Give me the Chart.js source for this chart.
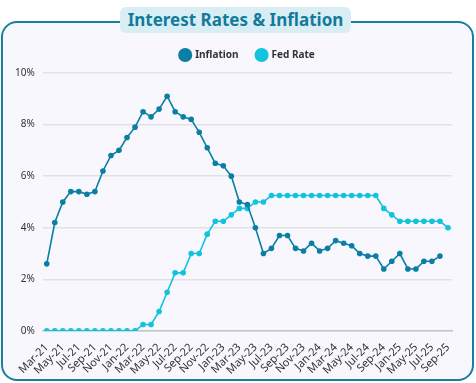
<!DOCTYPE html>
<html>
<head>
<meta charset="utf-8">
<script src="https://cdn.jsdelivr.net/npm/chart.js@4"></script>
<style>
  html, body { margin: 0; padding: 0; background: #fff; }
  body { width: 476px; height: 383px; position: relative; overflow: hidden; font-family: 'Noto Sans', sans-serif; }
  .card {
    position: absolute; left: 1px; top: 21px; width: 469px; height: 356px;
    border: 2px solid #17809f; border-radius: 16px; background: #f7f7fd;
  }
  .title {
    position: absolute; left: 120px; top: 7px; width: 231px; height: 26px;
    background: #d9eef4; border-radius: 6px; color: #127b9c;
    font: bold 17px 'Noto Sans', sans-serif; text-align: center; line-height: 25px;
  }
  .wrap { position: absolute; left: 0; top: 32px; width: 476px; height: 351px; }
</style>
</head>
<body>
<div class="card"></div>
<div class="title">Interest Rates &amp; Inflation</div>
<div class="wrap"><canvas id="chart"></canvas></div>
<script>
// ── Data ───────────────────────────────────────────────────
const months = [
  'Mar-21','Apr-21','May-21','Jun-21','Jul-21','Aug-21','Sep-21','Oct-21','Nov-21','Dec-21',
  'Jan-22','Feb-22','Mar-22','Apr-22','May-22','Jun-22','Jul-22','Aug-22','Sep-22','Oct-22',
  'Nov-22','Dec-22','Jan-23','Feb-23','Mar-23','Apr-23','May-23','Jun-23','Jul-23','Aug-23',
  'Sep-23','Oct-23','Nov-23','Dec-23','Jan-24','Feb-24','Mar-24','Apr-24','May-24','Jun-24',
  'Jul-24','Aug-24','Sep-24','Nov-24','Jan-25','Mar-25','May-25','Jun-25','Jul-25','Aug-25',
  'Sep-25'
];

const inflation = [
  2.6, 4.2, 5.0, 5.4, 5.4, 5.3, 5.4, 6.2, 6.8, 7.0,
  7.5, 7.9, 8.5, 8.3, 8.6, 9.1, 8.5, 8.3, 8.2, 7.7,
  7.1, 6.5, 6.4, 6.0, 5.0, 4.9, 4.0, 3.0, 3.2, 3.7,
  3.7, 3.2, 3.1, 3.4, 3.1, 3.2, 3.5, 3.4, 3.3, 3.0,
  2.9, 2.9, 2.4, 2.7, 3.0, 2.4, 2.4, 2.7, 2.7, 2.9,
  null
];

const fedRate = [
  0, 0, 0, 0, 0, 0, 0, 0, 0, 0,
  0, 0, 0.25, 0.25, 0.75, 1.5, 2.25, 2.25, 3.0, 3.0,
  3.75, 4.25, 4.25, 4.5, 4.75, 4.75, 5.0, 5.0, 5.25, 5.25,
  5.25, 5.25, 5.25, 5.25, 5.25, 5.25, 5.25, 5.25, 5.25, 5.25,
  5.25, 5.25, 4.75, 4.5, 4.25, 4.25, 4.25, 4.25, 4.25, 4.25,
  4.0
];

const yTicks = [0, 2, 4, 6, 8, 10];

// ── Style ──────────────────────────────────────────────────
const C_INF = '#0b7ea3';
const C_FED = '#12c3de';
const FONT = "'Noto Sans', sans-serif";

function lineSet(label, data, color) {
  return {
    label, data,
    borderColor: color,
    backgroundColor: color,
    borderWidth: 1.6,
    pointRadius: 2.8,
    pointHoverRadius: 3,
    pointBorderWidth: 0,
    tension: 0,
    spanGaps: false,
  };
}

// a bit more room under the legend, and nudge it right like the original
const legendNudge = {
  id: 'legendNudge',
  beforeInit(chart) {
    const fit = chart.legend.fit;
    chart.legend.fit = function () {
      fit.call(this);
      this.height += 3;
    };
  },
  afterLayout(chart) {
    chart.legend.left += 18;
    chart.legend.right += 18;
  },
};

new Chart(document.getElementById('chart'), {
  type: 'line',
  data: {
    labels: months,
    datasets: [
      lineSet('Inflation', inflation, C_INF),
      lineSet('Fed Rate', fedRate, C_FED),
    ],
  },
  options: {
    responsive: true,
    maintainAspectRatio: false,
    animation: false,
    layout: { padding: { left: 7, right: 24, top: 0, bottom: 4 } },
    plugins: {
      legend: {
        position: 'top',
        labels: {
          usePointStyle: true,
          pointStyle: 'circle',
          boxWidth: 10,
          boxHeight: 10,
          padding: 18,
          color: '#333',
          font: { family: FONT, size: 10, weight: 'bold' },
        },
      },
      tooltip: { enabled: false },
    },
    scales: {
      x: {
        offset: true,
        grid: { display: false },
        border: { display: true, color: '#c4c4c8', width: 1.5 },
        ticks: {
          autoSkip: false,
          minRotation: 45,
          maxRotation: 45,
          padding: 2,
          color: '#333',
          font: { family: FONT, size: 11 },
          callback: (v, i) => (i % 2 === 0 ? months[i] : ''),
        },
      },
      y: {
        min: 0,
        max: 10,
        afterBuildTicks: s => { s.ticks = yTicks.map(v => ({ value: v })); },
        grid: { color: '#e1e1e6', lineWidth: 1.5, drawTicks: false },
        border: { display: false },
        ticks: {
          padding: 8,
          color: '#333',
          font: { family: FONT, size: 10 },
          callback: v => v + '%',
        },
      },
    },
  },
  plugins: [legendNudge],
});
</script>
</body>
</html>
